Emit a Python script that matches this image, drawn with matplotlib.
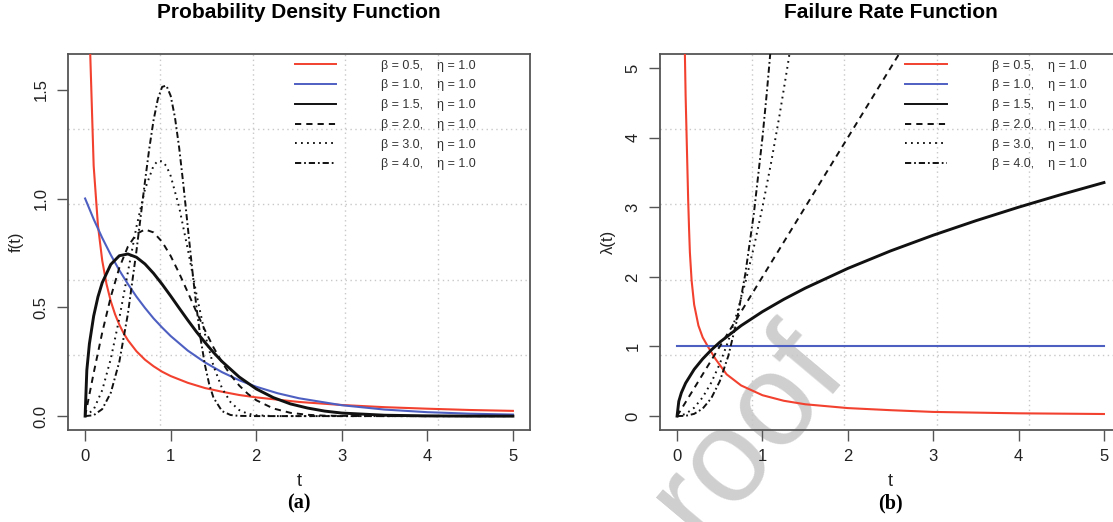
import numpy as np
import matplotlib
matplotlib.use("Agg")
import matplotlib.pyplot as plt

# ---------------- data ----------------
betas = [0.5, 1.0, 1.5, 2.0, 3.0, 4.0]
eta = 1.0

# (a) probability density f(t)
t_pdf_05 = [0.02, 0.05, 0.1, 0.15, 0.2, 0.25, 0.3, 0.35, 0.4, 0.45, 0.5, 0.6, 0.7, 0.8, 0.9,
            1.0, 1.2, 1.4, 1.6, 1.8, 2.0, 2.5, 3.0, 3.5, 4.0, 4.5, 5.0]
pdf_05 = [3.07, 1.79, 1.15, 0.876, 0.715, 0.607, 0.528, 0.468, 0.420, 0.381, 0.349, 0.298, 0.259,
          0.229, 0.204, 0.184, 0.153, 0.129, 0.112, 0.097, 0.086, 0.065, 0.051, 0.041, 0.034, 0.028, 0.024]

t_pdf_10 = [0, 0.1, 0.2, 0.3, 0.4, 0.5, 0.6, 0.7, 0.8, 0.9, 1.0, 1.2, 1.4, 1.6, 1.8, 2.0, 2.25,
            2.5, 3.0, 3.5, 4.0, 4.5, 5.0]
pdf_10 = [1.0, 0.905, 0.819, 0.741, 0.670, 0.607, 0.549, 0.497, 0.449, 0.407, 0.368, 0.301, 0.247,
          0.202, 0.165, 0.135, 0.105, 0.082, 0.050, 0.030, 0.018, 0.011, 0.007]

t_pdf_15 = [0, 0.02, 0.05, 0.1, 0.15, 0.2, 0.3, 0.4, 0.5, 0.6, 0.7, 0.8, 0.9, 1.0, 1.1, 1.2, 1.3,
            1.4, 1.5, 1.6, 1.8, 2.0, 2.2, 2.4, 2.6, 2.8, 3.0, 3.5, 4.0, 4.5, 5.0]
pdf_15 = [0, 0.211, 0.332, 0.460, 0.548, 0.613, 0.697, 0.737, 0.745, 0.730, 0.699, 0.656, 0.606,
          0.552, 0.496, 0.441, 0.388, 0.339, 0.293, 0.251, 0.180, 0.125, 0.085, 0.056, 0.037,
          0.023, 0.014, 0.004, 0.001, 0.0, 0.0]

t_pdf_20 = [0, 0.1, 0.2, 0.3, 0.4, 0.5, 0.6, 0.7, 0.8, 0.9, 1.0, 1.1, 1.2, 1.3, 1.4, 1.5, 1.6,
            1.7, 1.8, 1.9, 2.0, 2.2, 2.4, 2.6, 2.8, 3.0, 3.5, 4.0, 5.0]
pdf_20 = [0, 0.198, 0.384, 0.548, 0.682, 0.779, 0.837, 0.858, 0.844, 0.801, 0.736, 0.656, 0.569,
          0.480, 0.395, 0.316, 0.247, 0.189, 0.141, 0.103, 0.073, 0.035, 0.015, 0.006, 0.002,
          0.001, 0.0, 0.0, 0.0]

t_pdf_30 = [0, 0.1, 0.2, 0.3, 0.4, 0.5, 0.6, 0.7, 0.8, 0.85, 0.9, 0.95, 1.0, 1.1, 1.2, 1.3, 1.4,
            1.5, 1.6, 1.7, 1.8, 1.9, 2.0, 2.2, 3.0, 4.0, 5.0]
pdf_30 = [0, 0.030, 0.119, 0.263, 0.450, 0.662, 0.870, 1.043, 1.151, 1.173, 1.171, 1.149, 1.104,
          0.959, 0.767, 0.563, 0.378, 0.231, 0.128, 0.064, 0.028, 0.011, 0.004, 0.0, 0.0, 0.0, 0.0]

t_pdf_40 = [0, 0.1, 0.2, 0.3, 0.4, 0.5, 0.6, 0.65, 0.7, 0.75, 0.8, 0.85, 0.9, 0.95, 1.0, 1.05,
            1.1, 1.15, 1.2, 1.25, 1.3, 1.35, 1.4, 1.45, 1.5, 1.6, 1.7, 1.8, 2.0, 3.0, 4.0, 5.0]
pdf_40 = [0, 0.004, 0.032, 0.107, 0.250, 0.470, 0.759, 0.919, 1.079, 1.230, 1.360, 1.457, 1.513,
          1.519, 1.472, 1.373, 1.231, 1.058, 0.869, 0.681, 0.505, 0.355, 0.236, 0.147, 0.085,
          0.023, 0.005, 0.001, 0.0, 0.0, 0.0, 0.0]

# (b) failure rate lambda(t)
t_haz_05 = [0.09, 0.10, 0.11, 0.12, 0.13, 0.14, 0.15, 0.17, 0.2, 0.25, 0.3, 0.37, 0.45, 0.58,
            0.75, 1.0, 1.25, 1.5, 2.0, 2.5, 3.0, 4.0, 5.0]
haz_05 = [5.3, 4.6, 4.1, 3.6, 3.1, 2.7, 2.35, 1.95, 1.6, 1.3, 1.13, 0.98, 0.82, 0.6, 0.44, 0.3,
          0.22, 0.17, 0.115, 0.085, 0.06, 0.04, 0.03]

t_haz_10 = [0, 5.0]
haz_10 = [1.0, 1.0]

t_haz_15 = [0, 0.02, 0.05, 0.1, 0.2, 0.3, 0.4, 0.5, 0.75, 1.0, 1.25, 1.5, 2.0, 2.5, 3.0, 3.5,
            4.0, 4.5, 5.0]
haz_15 = [0, 0.212, 0.335, 0.474, 0.671, 0.822, 0.949, 1.061, 1.299, 1.5, 1.677, 1.837, 2.121,
          2.372, 2.598, 2.806, 3.0, 3.182, 3.354]

t_haz_20 = [0, 1.0, 2.0, 3.0]
haz_20 = [0, 2.0, 4.0, 6.0]

t_haz_30 = [0, 0.1, 0.2, 0.3, 0.4, 0.5, 0.6, 0.7, 0.8, 0.9, 1.0, 1.1, 1.2, 1.3, 1.4]
haz_30 = [0, 0.03, 0.12, 0.27, 0.48, 0.75, 1.08, 1.47, 1.92, 2.43, 3.0, 3.63, 4.32, 5.07, 5.88]

t_haz_40 = [0, 0.1, 0.2, 0.3, 0.4, 0.5, 0.6, 0.7, 0.8, 0.9, 1.0, 1.05, 1.1, 1.15]
haz_40 = [0, 0.004, 0.032, 0.108, 0.256, 0.5, 0.864, 1.372, 2.048, 2.916, 4.0, 4.63, 5.324, 6.08]

# ---------------- styles ----------------
red = '#F2412F'
blue = '#4E5FC2'
black = '#111111'
gridColour = '#C8C8C8'
axisColour = '#555555'
styles = [
    dict(color=red, lw=1.5, ls='-'),
    dict(color=blue, lw=1.5, ls='-'),
    dict(color=black, lw=2.1, ls='-'),
    dict(color=black, lw=1.4, ls=(0, (3.2, 2.6))),
    dict(color=black, lw=1.4, ls=(0, (0.9, 2.2))),
    dict(color=black, lw=1.4, ls=(0, (3.2, 1.5, 0.9, 1.5))),
]

plt.rcParams['font.family'] = ['Liberation Sans', 'DejaVu Sans']

fig = plt.figure(figsize=(11.13, 5.22), dpi=100)
axPdf = fig.add_axes([0.0611, 0.1762, 0.4151, 0.7203])
axHaz = fig.add_axes([0.5930, 0.1762, 0.4142, 0.7203])


def _rStyleAxes(ax, ylim, yticks, yticklabels, ylabel, title, panel):
    ax.set_xlim(-0.2, 5.2)
    ymin, ymax = ylim
    pad = 0.04 * (ymax - ymin)
    ax.set_ylim(ymin - pad, ymax + pad)
    ax.patch.set_alpha(0)
    # R grid(): 5 equal cells over the plot region
    for gx in np.linspace(-0.2, 5.2, 6)[1:-1]:
        ax.axvline(gx, color=gridColour, lw=1.0, ls=(0, (1, 2.5)), zorder=1)
    for gy in np.linspace(ymin - pad, ymax + pad, 6)[1:-1]:
        ax.axhline(gy, color=gridColour, lw=1.0, ls=(0, (1, 2.5)), zorder=1)
    ax.set_xticks([0, 1, 2, 3, 4, 5])
    ax.set_xticklabels(['0', '1', '2', '3', '4', '5'])
    ax.set_yticks(yticks)
    ax.set_yticklabels(yticklabels, rotation=90, va='center')
    ax.tick_params(axis='both', direction='out', length=8, width=1.0, color=axisColour,
                   labelsize=12, labelcolor='#222222')
    ax.tick_params(axis='x', pad=6)
    ax.tick_params(axis='y', pad=6)
    for sp in ax.spines.values():
        sp.set_color(axisColour)
        sp.set_linewidth(1.3)
    ax.set_xlabel('t', fontsize=13, color='#222222')
    ax.xaxis.set_label_coords(0.5, -0.115)
    ax.text(-0.112, 0.5, ylabel, transform=ax.transAxes, rotation=90, ha='center', va='center',
            fontsize=12, color='#222222')
    # title sits near the top edge of the figure
    bb = ax.get_position()
    fig.text(bb.x0 + 0.5 * 462 / 1113, 1 - 13 / 522, title, fontsize=15, fontweight='bold',
             ha='center', va='center')
    ax.text(0.5, -0.195, panel, transform=ax.transAxes, ha='center', va='center',
            fontsize=14.5, fontweight='bold', family='Liberation Serif')


pdfSeries = [(t_pdf_05, pdf_05), (t_pdf_10, pdf_10), (t_pdf_15, pdf_15),
             (t_pdf_20, pdf_20), (t_pdf_30, pdf_30), (t_pdf_40, pdf_40)]
hazSeries = [(t_haz_05, haz_05), (t_haz_10, haz_10), (t_haz_15, haz_15),
             (t_haz_20, haz_20), (t_haz_30, haz_30), (t_haz_40, haz_40)]
labels = [f'\u03b2 = {b:.1f},    \u03b7 = {eta:.1f}' for b in betas]

for ax, series, legX in [(axPdf, pdfSeries, 0.491), (axHaz, hazSeries, 0.532)]:
    handles = []
    for (tt, yy), st, lab in zip(series, styles, labels):
        ln, = ax.plot(tt, yy, zorder=3, solid_joinstyle='round', **st, label=lab)
        handles.append(ln)
    leg = ax.legend(handles=handles, loc='upper left', bbox_to_anchor=(legX, 0.985),
                    frameon=False, fontsize=9, handlelength=3.3, handletextpad=3.6,
                    labelspacing=0.62, borderpad=0, borderaxespad=0)
    for txt in leg.get_texts():
        txt.set_color('#333333')
    for lh in leg.get_lines():
        lh.set_linewidth(1.4)

_rStyleAxes(axPdf, (0, 1.6), [0, 0.5, 1.0, 1.5], ['0.0', '0.5', '1.0', '1.5'], 'f(t)',
            'Probability Density Function', '(a)')
_rStyleAxes(axHaz, (0, 5), [0, 1, 2, 3, 4, 5], ['0', '1', '2', '3', '4', '5'], '\u03bb(t)',
            'Failure Rate Function', '(b)')

# page watermark bleeding into the figure
fig.text(0.672, 0.17, 'roof', fontsize=95, color='#CFCFCF', rotation=50,
         ha='center', va='center', zorder=-5)

fig.savefig('out.png', dpi=100)
